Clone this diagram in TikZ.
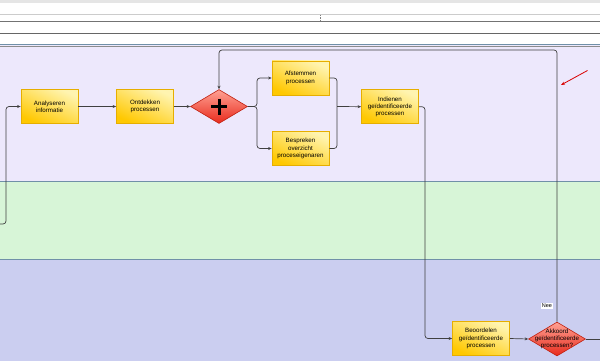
\documentclass[tikz,border=0pt]{standalone}
\usepackage{fontspec}
\setmainfont{Liberation Sans}
\usetikzlibrary{arrows.meta,shapes.geometric}
\definecolor{lanelav}{HTML}{EDE8FC}
\definecolor{lanegreen}{HTML}{D7F5D7}
\definecolor{laneblue}{HTML}{CBCEF0}
\definecolor{laneline}{HTML}{7090A8}
\definecolor{flowc}{HTML}{404040}
\definecolor{taskline}{HTML}{E6AE00}
\definecolor{tasktop}{HTML}{FFF4B0}
\definecolor{taskbot}{HTML}{FFC800}
\definecolor{gwtop}{HTML}{FFA294}
\definecolor{gwbot}{HTML}{E82A1C}
\definecolor{gwline}{HTML}{C02010}
\begin{document}
\begin{tikzpicture}[x=1pt,y=-1pt,
  txt/.style={font=\fontsize{6.2}{7.2}\selectfont, align=center, text=black},
  task/.style={txt, rectangle, draw=taskline, line width=0.8pt,
    top color=tasktop, bottom color=taskbot,
    shading angle=-25, minimum width=57pt, minimum height=34pt, inner sep=1pt},
  gw/.style={diamond, draw=gwline, line width=0.6pt,
    top color=gwtop, bottom color=gwbot,
    minimum width=57pt, minimum height=34pt, inner sep=0pt},
  flow/.style={draw=flowc, line width=0.7pt, rounded corners=3pt,
    -{Stealth[length=3.5pt,width=3pt]}},
  plain/.style={draw=flowc, line width=0.7pt, rounded corners=3pt}]
\useasboundingbox (0,0) rectangle (600,361);
\clip (0,0) rectangle (600,361);
% header
\fill[white] (0,0) rectangle (600,45);
\fill[black!10] (0,0) rectangle (600,3.5);
\draw[black!20, line width=0.8pt] (0,14.3) -- (600,14.3);
\draw[black!55, line width=0.9pt] (0,21.7) -- (600,21.7);
\draw[black!60, line width=0.9pt] (0,33.3) -- (600,33.3);
\draw[black!50, line width=0.8pt, dash pattern=on 1.5pt off 1pt] (320.7,15) -- (320.7,21);
% lanes
\fill[lanelav] (0,45) rectangle (600,181.5);
\fill[lanegreen] (0,181.5) rectangle (600,259);
\fill[laneblue] (0,259) rectangle (600,361);
\draw[laneline, line width=0.9pt] (0,44.7) -- (600,44.7);
\draw[black!45, line width=0.5pt] (0,46) -- (600,46);
\draw[laneline, line width=0.9pt] (0,181.5) -- (600,181.5);
\draw[laneline, line width=0.9pt] (0,259) -- (600,259);
% nodes
\node[task] (a1) at (49.5,106.5) {Analyseren\\informatie};
\node[task] (a2) at (145,106.5) {Ontdekken\\processen};
\node[gw] (g1) at (219,106.5) {};
\draw[black, line width=3pt] (211,106.5) -- (227,106.5) (219,98.5) -- (219,114.5);
\node[task] (t1) at (300.5,78) {Afstemmen\\processen};
\node[task] (t2) at (300.5,148.5) {Bespreken\\overzicht\\proceseigenaren};
\node[task] (t3) at (390,106.7) {Indienen\\geïdentificeerde\\processen};
\node[task] (t4) at (481,338.5) {Beoordelen\\geïdentificeerde\\processen};
\node[gw] (g2) at (557,339) {};
\node[txt, inner sep=0pt] (g2t) at (557,339) {Akkoord\\geïdentificeerde\\processen?};
% connectors
\coordinate (lin) at (-10,224);
\draw[flow] (lin) -- (6,224) -- (6,106.5) -- (a1.west);
\draw[flow] (a1.east) -- (a2.west);
\draw[flow] (a2.east) -- (g1.west);
\draw[flow] (g1.east) -- (257,106.5) |- (t1.west);
\draw[flow] (g1.east) -- (257,106.5) |- (t2.west);
\draw[plain] (t1.east) -| (337,106.5);
\draw[plain] (t2.east) -| (337,106.5);
\draw[flow] (337,106.5) -- (t3.west);
\draw[flow] (t3.east) -- (425,106.7) |- (t4.west);
\draw[flow] (t4.east) -- (g2.west);
\coordinate (gout) at (610,339);
\draw[plain] (g2.east) -- (gout);
\draw[flow] (g2.north) -- (557,50) -- (219,50) -- (g1.north);
\node[font=\fontsize{5.5}{6.5}\selectfont, fill=white, inner sep=1pt] (nee) at (547,306) {Nee};
% red pointer arrow
\coordinate (rs) at (587.5,70.5);
\coordinate (re) at (561,85);
\draw[red!85!black, line width=0.8pt, -{Stealth[length=4pt,width=3pt]}] (rs) -- (re);
\end{tikzpicture}
\end{document}
